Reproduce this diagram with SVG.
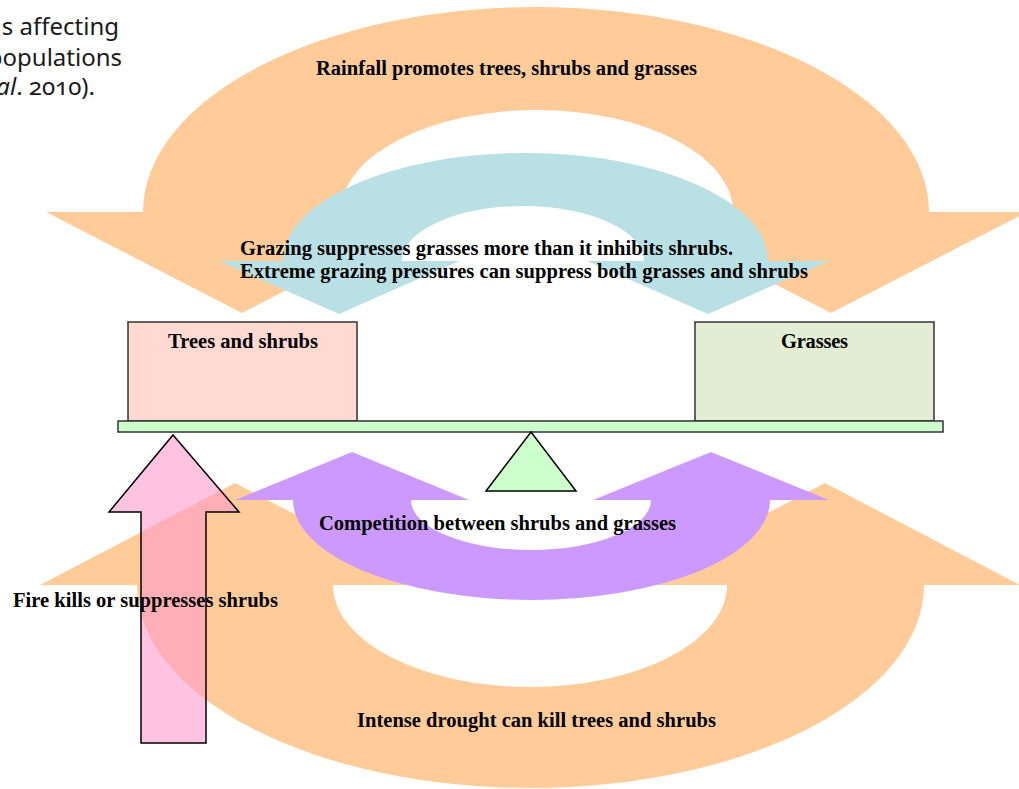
<svg xmlns="http://www.w3.org/2000/svg" width="1019" height="789" viewBox="0 0 1019 789">
<style>
.orange{fill:#FFCC99}
.blue{fill:#B9E0E4}
.purple{fill:#CC99FF}
.pink{fill:#FF99CC;fill-opacity:.6;stroke:#000;stroke-width:1.5;stroke-linejoin:miter}
.box{stroke:#333;stroke-width:1.5}
.lbl{font-family:"Liberation Serif","Times New Roman",serif;font-weight:bold;font-size:20.5px;fill:#000}
.page{font-family:"Noto Sans","Open Sans",sans-serif;font-size:24px;fill:#1a1a1a;font-variant-numeric:oldstyle-nums}
</style>
<rect width="1019" height="789" fill="#fff"/>
<g id="page-text">
<text class="page" x="119" y="35" text-anchor="end">s affecting</text>
<text class="page" x="122" y="66" text-anchor="end">populations</text>
<text class="page" x="95" y="95" text-anchor="end"><tspan font-style="italic">al</tspan>. 2010).</text>
</g>
<g id="connectors">
<path id="arrow-rainfall" class="orange" d="M46,212 H143 A393,205 0 0 1 929,212 H1027 L831,313 L635,212 H733 A196,102 0 0 0 341,212 H438 L242,313 Z"/>
<path id="arrow-grazing" class="blue" d="M219,261 H283 A242.5,108 0 0 1 768,261 H829 L708,314 L587,261 H644 A121,55 0 0 0 402,261 H459 L339,314 Z"/>
<path id="arrow-drought" class="orange" d="M40,585 H137 A393.5,203 0 0 0 924,585 H1020 L825,483 L630,585 H727 A197,102 0 0 1 333,585 H430 L235,483 Z"/>
<path id="arrow-competition" class="purple" d="M235,500 H293 A238.5,100 0 0 0 770,500 H829 L711,452 L593,500 H651 A120,50 0 0 1 411,500 H469 L352,452 Z"/>
<path id="arrow-fire" class="pink" d="M173,435 L239,512 H206 V743 H141 V512 H109 Z"/>
</g>
<g id="node-trees">
<rect class="box" x="128" y="322" width="229" height="99" fill="#FFD9D2"/>
<text class="lbl" x="168" y="348" textLength="150" lengthAdjust="spacing">Trees and shrubs</text>
</g>
<g id="node-grasses">
<rect class="box" x="695" y="322" width="239" height="99" fill="#E2EDD3"/>
<text class="lbl" x="781" y="348" textLength="67" lengthAdjust="spacing">Grasses</text>
</g>
<g id="node-beam">
<rect class="box" x="118" y="421" width="825" height="11" fill="#CCFFCC"/>
</g>
<g id="node-fulcrum">
<polygon points="531,432 576,491 486,491" fill="#CCFFCC" stroke="#000" stroke-width="1.5"/>
</g>
<g id="labels">
<text class="lbl" x="316" y="75" textLength="381" lengthAdjust="spacing">Rainfall promotes trees, shrubs and grasses</text>
<text class="lbl" x="240" y="255" textLength="493" lengthAdjust="spacing">Grazing suppresses grasses more than it inhibits shrubs.</text>
<text class="lbl" x="240" y="278" textLength="568" lengthAdjust="spacing">Extreme grazing pressures can suppress both grasses and shrubs</text>
<text class="lbl" x="319" y="530" textLength="357" lengthAdjust="spacing">Competition between shrubs and grasses</text>
<text class="lbl" x="13" y="607" textLength="265" lengthAdjust="spacing">Fire kills or suppresses shrubs</text>
<text class="lbl" x="357" y="727" textLength="359" lengthAdjust="spacing">Intense drought can kill trees and shrubs</text>
</g>
</svg>
